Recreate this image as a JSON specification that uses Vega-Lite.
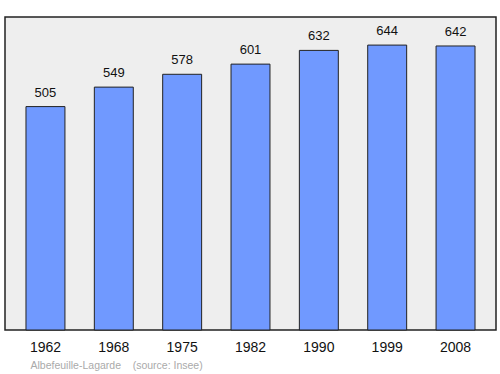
{
  "$schema": "https://vega.github.io/schema/vega-lite/v6.json",
  "width": 491,
  "height": 313,
  "autosize": {"type": "none"},
  "padding": {"left": 5, "top": 17, "right": 4, "bottom": 44},
  "background": "white",
  "config": {
    "view": {"fill": "#eeeeee", "stroke": "#222222", "strokeWidth": 1.5},
    "font": "Liberation Sans"
  },
  "data": {
    "values": [
      {"year": "1962", "pop": 505},
      {"year": "1968", "pop": 549},
      {"year": "1975", "pop": 578},
      {"year": "1982", "pop": 601},
      {"year": "1990", "pop": 632},
      {"year": "1999", "pop": 644},
      {"year": "2008", "pop": 642}
    ]
  },
  "encoding": {
    "x": {
      "field": "year",
      "type": "ordinal",
      "sort": null,
      "scale": {"paddingInner": 0.43, "paddingOuter": 0.307},
      "axis": {
        "labelAngle": 0,
        "labelFontSize": 14,
        "labelColor": "#111111",
        "labelPadding": 10,
        "ticks": false,
        "domain": false,
        "title": "Albefeuille-Lagarde\u00a0\u00a0\u00a0\u00a0(source: Insee)",
        "titleFontSize": 10.5,
        "titleFontWeight": "normal",
        "titleColor": "#aaaaaa",
        "titleAnchor": "start",
        "titlePadding": 6,
        "titleX": 25
      }
    },
    "y": {
      "field": "pop",
      "type": "quantitative",
      "scale": {"domain": [0, 707.5], "nice": false},
      "axis": null
    }
  },
  "layer": [
    {
      "mark": {"type": "bar", "fill": "#7099ff", "stroke": "#222222", "strokeWidth": 1}
    },
    {
      "mark": {"type": "text", "baseline": "bottom", "dy": -7, "fontSize": 13, "color": "#111111"},
      "encoding": {"text": {"field": "pop", "type": "quantitative"}}
    }
  ]
}
